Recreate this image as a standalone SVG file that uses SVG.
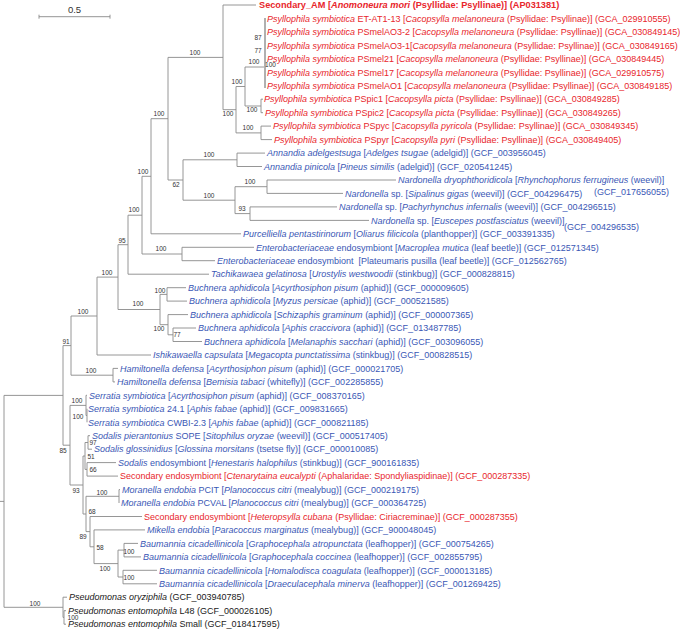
<svg xmlns="http://www.w3.org/2000/svg" width="680" height="631" viewBox="0 0 680 631">
<style>
.t{font-family:"Liberation Sans",Arial,sans-serif;font-size:9px;white-space:pre}
.r{fill:#e8262c}.b{fill:#3a57b5}.k{fill:#1a1a1a}
.i{font-style:italic}
.bd{font-weight:bold;font-size:9.2px}
.bs{font-family:"Liberation Sans",Arial,sans-serif;font-size:6.5px;fill:#333;text-anchor:middle}
.ln{fill:none;stroke:#8a8a8a;stroke-width:0.9}
.th{fill:none;stroke:#b0b0b0;stroke-width:2}
</style>
<rect width="680" height="631" fill="#fff"/>
<g id="scale">
<path class="ln" d="M39,16.7 H110 M39,14.7 V18.7 M110,14.7 V18.7"/>
<text x="74.5" y="12.8" font-family="Liberation Sans,Arial,sans-serif" font-size="9.5" fill="#333" text-anchor="middle">0.5</text>
</g>
<g id="connectors">
<path class="ln" d="M0,501.4 H4 M4,395.4 V607.3 M4,395.4 H63 M4,607.3 H63
M63,345.6 V445.2 M63,345.6 H71 M63,445.2 H70
M71,316 V375.2 M71,316 H97 M71,375.2 H113
M113,368.4 V381.9 M113,368.4 H118 M113,381.9 H115
M97,277.1 V355 M97,277.1 H118 M97,355 H151
M118,244.7 V309.5 M118,244.7 H128 M118,309.5 H160
M128,215.2 V274.2 M128,215.2 H142 M128,274.2 H209
M142,176.3 V254 M142,176.3 H151 M142,254 H182
M182,247.3 V260.7 M182,247.3 H254 M182,260.7 H215
M151,118.7 V233.8 M151,118.7 H168 M151,233.8 H241
M168,57.4 V180 M168,57.4 H223 M168,180 H183
M183,159.8 V200.2 M183,159.8 H237 M183,200.2 H235
M237,153.1 V166.5 M237,153.1 H265 M237,166.5 H262
M235,186.7 V213.6 M235,186.7 H267 M235,213.6 H250
M267,180 V193.4 M267,180 H396 M267,193.4 H343
M250,206.9 V220.4 M250,206.9 H337 M250,220.4 H369
M223,5 V109.7 M223,5 H256 M223,109.7 H236
M236,86.5 V132.9 M236,86.5 H245 M236,132.9 H261
M261,126.1 V139.6 M261,126.1 H271 M261,139.6 H272
M245,67 V106 M245,67 H265 M245,106 H261
M261,99.2 V112.7 M261,99.2 H263 M261,112.7 H263
M160,294.4 V324.7 M160,294.4 H167 M160,324.7 H168
M167,287.7 V301.1 M167,287.7 H186 M167,301.1 H187
M168,314.6 V334.8 M168,314.6 H188 M168,334.8 H173
M173,328 V341.5 M173,328 H196 M173,341.5 H202
M70,405.4 V485 M70,405.4 H86 M70,485 H83
M86,395.3 V415.5 M86,395.3 H87 M86,415.5 H87 M87,408.8 V422.3
M83,456 V514 M83,456 H85 M83,514 H86
M85,442.5 V469.4 M85,442.5 H88 M85,469.4 H87
M88,435.7 V449.2 M88,435.7 H90 M88,449.2 H92
M87,462.6 V476.1 M87,462.6 H116 M87,476.1 H118
M86,496.3 V531.6 M86,496.3 H119 M86,531.6 H90
M119,489.6 V503 M119,489.6 H120
M90,516.5 V546.8 M90,516.5 H142 M90,546.8 H94
M94,529.9 V563.6 M94,529.9 H145 M94,563.6 H118
M118,550.1 V577 M118,550.1 H124 M118,577 H123
M124,543.4 V556.9 M124,543.4 H138 M124,556.9 H141
M123,570.3 V583.8 M123,570.3 H157 M123,583.8 H157
M63,597.2 V617.4 M63,597.2 H67 M63,617.4 H64
M64,610.7 V624.2 M64,610.7 H66 M64,624.2 H66"/>
<path class="th" d="M265,18 V88"/>
</g>
<g id="support">
<text class="bs" x="195" y="55.3">100</text>
<text class="bs" x="258" y="39.6">87</text>
<text class="bs" x="258" y="53">77</text>
<text class="bs" x="254" y="64.3">100</text>
<text class="bs" x="270.5" y="67.3">100</text>
<text class="bs" x="237" y="84.3">100</text>
<text class="bs" x="228" y="116.3">100</text>
<text class="bs" x="252" y="112.3">100</text>
<text class="bs" x="248" y="130.3">100</text>
<text class="bs" x="159" y="116.3">100</text>
<text class="bs" x="209" y="157.3">100</text>
<text class="bs" x="250" y="184.3">100</text>
<text class="bs" x="143" y="174.3">100</text>
<text class="bs" x="176" y="187.3">62</text>
<text class="bs" x="209" y="198.3">100</text>
<text class="bs" x="242" y="211.3">93</text>
<text class="bs" x="134" y="212.3">100</text>
<text class="bs" x="161" y="251.3">100</text>
<text class="bs" x="122" y="243.3">95</text>
<text class="bs" x="160" y="293.3">100</text>
<text class="bs" x="138" y="306.3">100</text>
<text class="bs" x="159" y="331.3">100</text>
<text class="bs" x="177" y="337.3">77</text>
<text class="bs" x="107" y="275.3">100</text>
<text class="bs" x="83" y="314.3">100</text>
<text class="bs" x="66" y="344.3">91</text>
<text class="bs" x="91" y="373.3">100</text>
<text class="bs" x="77" y="403.3">100</text>
<text class="bs" x="78" y="419.3">100</text>
<text class="bs" x="63" y="453.3">85</text>
<text class="bs" x="93" y="445.3">97</text>
<text class="bs" x="91" y="459.3">51</text>
<text class="bs" x="93" y="472.3">66</text>
<text class="bs" x="76" y="493.3">93</text>
<text class="bs" x="102" y="495.3">100</text>
<text class="bs" x="92" y="514.3">68</text>
<text class="bs" x="83" y="539.3">89</text>
<text class="bs" x="100" y="550.3">58</text>
<text class="bs" x="129" y="554.3">100</text>
<text class="bs" x="105" y="571.3">100</text>
<text class="bs" x="129" y="580.3">100</text>
<text class="bs" x="35" y="606.3">100</text>
<text class="bs" x="73" y="620.3">100</text>
</g>
<g id="leaf01"><text class="t r bd" x="259" y="8.3">Secondary_AM [<tspan class="i">Anomoneura mori</tspan> (Psyllidae: Psyllinae)] (AP031381)</text></g>
<g id="leaf02"><text class="t r" x="267" y="21.7"><tspan class="i">Psyllophila symbiotica</tspan> ET-AT1-13 [<tspan class="i">Cacopsylla melanoneura</tspan> (Psyllidae: Psyllinae)] (GCA_029910555)</text></g>
<g id="leaf03"><text class="t r" x="267" y="35.1"><tspan class="i">Psyllophila symbiotica</tspan> PSmelAO3-2 [<tspan class="i">Cacopsylla melanoneura</tspan> (Psyllidae: Psyllinae)] (GCA_030849145)</text></g>
<g id="leaf04"><text class="t r" x="267" y="48.6"><tspan class="i">Psyllophila symbiotica</tspan> PSmelAO3-1[<tspan class="i">Cacopsylla melanoneura</tspan> (Psyllidae: Psyllinae)] (GCA_030849165)</text></g>
<g id="leaf05"><text class="t r" x="267" y="62"><tspan class="i">Psyllophila symbiotica</tspan> PSmel21 [<tspan class="i">Cacopsylla melanoneura</tspan> (Psyllidae: Psyllinae)] (GCA_030849445)</text></g>
<g id="leaf06"><text class="t r" x="267" y="75.5"><tspan class="i">Psyllophila symbiotica</tspan> PSmel17 [<tspan class="i">Cacopsylla melanoneura</tspan> (Psyllidae: Psyllinae)] (GCA_029910575)</text></g>
<g id="leaf07"><text class="t r" x="267" y="89"><tspan class="i">Psyllophila symbiotica</tspan> PSmelAO1 [<tspan class="i">Cacopsylla melanoneura</tspan> (Psyllidae: Psyllinae)] (GCA_030849185)</text></g>
<g id="leaf08"><text class="t r" x="264" y="102.4"><tspan class="i">Psyllophila symbiotica</tspan> PSpic1 [<tspan class="i">Cacopsylla picta</tspan> (Psyllidae: Psyllinae)] (GCA_030849285)</text></g>
<g id="leaf09"><text class="t r" x="265" y="115.9"><tspan class="i">Psyllophila symbiotica</tspan> PSpic2 [<tspan class="i">Cacopsylla picta</tspan> (Psyllidae: Psyllinae)] (GCA_030849265)</text></g>
<g id="leaf10"><text class="t r" x="273" y="129.3"><tspan class="i">Psyllophila symbiotica</tspan> PSpyc [<tspan class="i">Cacopsylla pyricola</tspan> (Psyllidae: Psyllinae)] (GCA_030849345)</text></g>
<g id="leaf11"><text class="t r" x="274" y="142.8"><tspan class="i">Psyllophila symbiotica</tspan> PSpyr [<tspan class="i">Cacopsylla pyri</tspan> (Psyllidae: Psyllinae)] (GCA_030849405)</text></g>
<g id="leaf12"><text class="t b" x="267" y="156.3"><tspan class="i">Annandia adelgestsuga</tspan> [<tspan class="i">Adelges tsugae</tspan> (adelgid)] (GCF_003956045)</text></g>
<g id="leaf13"><text class="t b" x="264" y="169.7"><tspan class="i">Annandia pinicola</tspan> [<tspan class="i">Pineus similis</tspan> (adelgid)] (GCF_020541245)</text></g>
<g id="leaf14"><text class="t b" x="398" y="183.2"><tspan class="i">Nardonella dryophthoridicola</tspan> [<tspan class="i">Rhynchophorus ferrugineus</tspan> (weevil)]</text><text class="t b" x="594" y="195.3">(GCF_017656055)</text></g>
<g id="leaf15"><text class="t b" x="345" y="196.6"><tspan class="i">Nardonella</tspan> sp. [<tspan class="i">Sipalinus gigas</tspan> (weevil)] (GCF_004296475)</text></g>
<g id="leaf16"><text class="t b" x="339" y="210.1"><tspan class="i">Nardonella</tspan> sp. [<tspan class="i">Pachyrhynchus infernalis</tspan> (weevil)] (GCF_004296515)</text></g>
<g id="leaf17"><text class="t b" x="371" y="223.6"><tspan class="i">Nardonella</tspan> sp. [<tspan class="i">Euscepes postfasciatus</tspan> (weevil)]</text><text class="t b" x="564" y="230">(GCF_004296535)</text></g>
<g id="leaf18"><text class="t b" x="243" y="237"><tspan class="i">Purcelliella pentastirinorum</tspan> [<tspan class="i">Oliarus filicicola</tspan> (planthopper)] (GCF_003391335)</text></g>
<g id="leaf19"><text class="t b" x="256" y="250.5"><tspan class="i">Enterobacteriaceae</tspan> endosymbiont [<tspan class="i">Macroplea mutica</tspan> (leaf beetle)] (GCF_012571345)</text></g>
<g id="leaf20"><text class="t b" x="217" y="263.9"><tspan class="i">Enterobacteriaceae</tspan> endosymbiont  [Plateumaris pusilla (leaf beetle)] (GCF_012562765)</text></g>
<g id="leaf21"><text class="t b" x="211" y="277.4"><tspan class="i">Tachikawaea gelatinosa</tspan> [<tspan class="i">Urostylis westwoodii</tspan> (stinkbug)] (GCF_000828815)</text></g>
<g id="leaf22"><text class="t b" x="188" y="290.9"><tspan class="i">Buchnera aphidicola</tspan> [<tspan class="i">Acyrthosiphon pisum</tspan> (aphid)] (GCF_000009605)</text></g>
<g id="leaf23"><text class="t b" x="189" y="304.3"><tspan class="i">Buchnera aphidicola</tspan> [<tspan class="i">Myzus persicae</tspan> (aphid)] (GCF_000521585)</text></g>
<g id="leaf24"><text class="t b" x="190" y="317.8"><tspan class="i">Buchnera aphidicola</tspan> [<tspan class="i">Schizaphis graminum</tspan> (aphid)] (GCF_000007365)</text></g>
<g id="leaf25"><text class="t b" x="198" y="331.2"><tspan class="i">Buchnera aphidicola</tspan> [<tspan class="i">Aphis craccivora</tspan> (aphid)] (GCF_013487785)</text></g>
<g id="leaf26"><text class="t b" x="204" y="344.7"><tspan class="i">Buchnera aphidicola</tspan> [<tspan class="i">Melanaphis sacchari</tspan> (aphid)] (GCF_003096055)</text></g>
<g id="leaf27"><text class="t b" x="153" y="358.2"><tspan class="i">Ishikawaella capsulata</tspan> [<tspan class="i">Megacopta punctatissima</tspan> (stinkbug)] (GCF_000828515)</text></g>
<g id="leaf28"><text class="t b" x="120" y="371.6"><tspan class="i">Hamiltonella defensa</tspan> [<tspan class="i">Acyrthosiphon pisum</tspan> (aphid)] (GCF_000021705)</text></g>
<g id="leaf29"><text class="t b" x="117" y="385.1"><tspan class="i">Hamiltonella defensa</tspan> [<tspan class="i">Bemisia tabaci</tspan> (whitefly)] (GCF_002285855)</text></g>
<g id="leaf30"><text class="t b" x="89" y="398.5"><tspan class="i">Serratia symbiotica</tspan> [<tspan class="i">Acyrthosiphon pisum</tspan> (aphid)] (GCF_008370165)</text></g>
<g id="leaf31"><text class="t b" x="88" y="412"><tspan class="i">Serratia symbiotica</tspan> 24.1 [<tspan class="i">Aphis fabae</tspan> (aphid)] (GCF_009831665)</text></g>
<g id="leaf32"><text class="t b" x="88" y="425.5"><tspan class="i">Serratia symbiotica</tspan> CWBI-2.3 [<tspan class="i">Aphis fabae</tspan> (aphid)] (GCF_000821185)</text></g>
<g id="leaf33"><text class="t b" x="92" y="438.9"><tspan class="i">Sodalis pierantonius</tspan> SOPE [<tspan class="i">Sitophilus oryzae</tspan> (weevil)] (GCF_000517405)</text></g>
<g id="leaf34"><text class="t b" x="94" y="452.4"><tspan class="i">Sodalis glossinidius</tspan> [<tspan class="i">Glossina morsitans</tspan> (tsetse fly)] (GCF_000010085)</text></g>
<g id="leaf35"><text class="t b" x="118" y="465.8"><tspan class="i">Sodalis</tspan> endosymbiont [<tspan class="i">Henestaris halophilus</tspan> (stinkbug)] (GCF_900161835)</text></g>
<g id="leaf36"><text class="t r" x="120" y="479.3">Secondary endosymbiont [<tspan class="i">Ctenarytaina eucalypti</tspan> (Aphalaridae: Spondyliaspidinae)] (GCF_000287335)</text></g>
<g id="leaf37"><text class="t b" x="122" y="492.8"><tspan class="i">Moranella endobia</tspan> PCIT [<tspan class="i">Planococcus citri</tspan> (mealybug)] (GCF_000219175)</text></g>
<g id="leaf38"><text class="t b" x="121" y="506.2"><tspan class="i">Moranella endobia</tspan> PCVAL [<tspan class="i">Planococcus citri</tspan> (mealybug)] (GCF_000364725)</text></g>
<g id="leaf39"><text class="t r" x="144" y="519.7">Secondary endosymbiont [<tspan class="i">Heteropsylla cubana</tspan> (Psyllidae: Ciriacreminae)] (GCF_000287355)</text></g>
<g id="leaf40"><text class="t b" x="147" y="533.1"><tspan class="i">Mikella endobia</tspan> [<tspan class="i">Paracoccus marginatus</tspan> (mealybug)] (GCF_900048045)</text></g>
<g id="leaf41"><text class="t b" x="140" y="546.6"><tspan class="i">Baumannia cicadellinicola</tspan> [<tspan class="i">Graphocephala atropunctata</tspan> (leafhopper)] (GCF_000754265)</text></g>
<g id="leaf42"><text class="t b" x="143" y="560.1"><tspan class="i">Baumannia cicadellinicola</tspan> [<tspan class="i">Graphocephala coccinea</tspan> (leafhopper)] (GCF_002855795)</text></g>
<g id="leaf43"><text class="t b" x="159" y="573.5"><tspan class="i">Baumannia cicadellinicola</tspan> [<tspan class="i">Homalodisca coagulata</tspan> (leafhopper)] (GCF_000013185)</text></g>
<g id="leaf44"><text class="t b" x="159" y="587"><tspan class="i">Baumannia cicadellinicola</tspan> [<tspan class="i">Draeculacephala minerva</tspan> (leafhopper)] (GCF_001269425)</text></g>
<g id="leaf45"><text class="t k" x="69" y="600.4"><tspan class="i">Pseudomonas oryziphila</tspan> (GCF_003940785)</text></g>
<g id="leaf46"><text class="t k" x="68" y="613.9"><tspan class="i">Pseudomonas entomophila</tspan> L48 (GCF_000026105)</text></g>
<g id="leaf47"><text class="t k" x="68" y="627.4"><tspan class="i">Pseudomonas entomophila</tspan> Small (GCF_018417595)</text></g>
</svg>
